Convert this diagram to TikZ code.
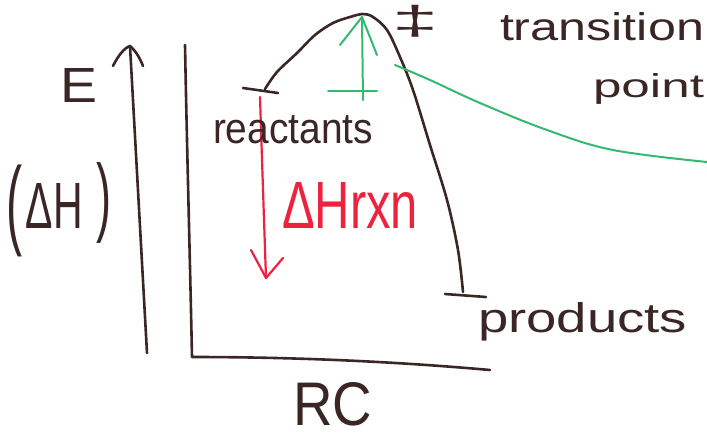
\documentclass[tikz,border=0pt]{standalone}
\usepackage{graphicx}
\usepackage{fontspec}
\setmainfont{Liberation Sans}
\definecolor{ink}{RGB}{58,38,36}
\definecolor{penGreen}{RGB}{52,185,110}
\definecolor{penRed}{RGB}{236,34,62}
\tikzset{
  inkline/.style={draw=ink, line width=2.6pt, line cap=round, line join=round},
  greenline/.style={draw=penGreen, line width=2pt, line cap=round, line join=round},
  redline/.style={draw=penRed, line width=2.2pt, line cap=round, line join=round},
  lbl/.style={inner sep=0pt, outer sep=0pt, anchor=base west, text=ink},
  redlbl/.style={inner sep=0pt, outer sep=0pt, anchor=base west, text=penRed},
}
\begin{document}
\begin{tikzpicture}[x=1pt,y=-1pt]
\useasboundingbox (0,0) rectangle (707,437);
% energy arrow at left
\draw[inkline] (147,353) -- (130,46);
\draw[inkline] (113,66) .. controls (118,56) and (124,48) .. (130,46) .. controls (135,50) and (140,58) .. (143,66);
% graph axes
\draw[inkline] (185,45) .. controls (187,150) and (190,260) .. (192,357) .. controls (300,357) and (400,362) .. (490,370);
% reactant level
\draw[inkline] (243,88) -- (278,93);
% product level
\draw[inkline] (445,294) -- (486,297);
% reaction curve
\draw[inkline] plot[smooth, tension=0.55] coordinates {(265,89) (277,72) (297,53) (315,35) (333,23) (350,17) (363,14) (373,17) (387,30) (400,57) (413,90) (430,145) (447,200) (458,250) (463,292)};
% green activation arrow
\draw[greenline] (328,91) -- (377,91);
\draw[greenline] (363,100) -- (362,17);
\draw[greenline] (340,45) -- (362,17) -- (377,55);
% green pointer to label
\draw[greenline] plot[smooth, tension=0.6] coordinates {(395,65) (430,80) (480,103) (547,130) (613,150) (707,162)};
% red enthalpy arrow
\draw[redline] (260,97) .. controls (262,160) and (264,220) .. (266,278);
\draw[redline] (251,250) -- (266,278) -- (283,258);
% labels
\node[lbl] (lE) at (60,102) {\resizebox{37pt}{34pt}{E}};
\node[inner sep=0pt, text=ink] (lpl) at (14,211) {\resizebox*{16pt}{92pt}{(}};
\node[lbl] (ldH) at (26,228) {\resizebox{57pt}{45pt}{ΔH}};
\node[inner sep=0pt, text=ink] (lpr) at (104,203) {\resizebox*{15pt}{81pt}{)}};
\node[inner sep=0pt, text=ink] (ldag) at (416,21) {\resizebox*{46pt}{32pt}{‡}};
\node[lbl] (ltr) at (500,40) {\resizebox{204pt}{28pt}{transition}};
\node[lbl] (lpt) at (593,97) {\resizebox{111pt}{24pt}{point}};
\node[lbl] (lre) at (213,143) {\resizebox{160pt}{28pt}{reactants}};
\node[redlbl] (ldHr) at (282,228) {\resizebox{136pt}{46pt}{ΔHrxn}};
\node[lbl] (lpr2) at (478,332) {\resizebox{209pt}{30pt}{products}};
\node[lbl] (lrc) at (293,425) {\resizebox{79pt}{43pt}{RC}};
\end{tikzpicture}
\end{document}
